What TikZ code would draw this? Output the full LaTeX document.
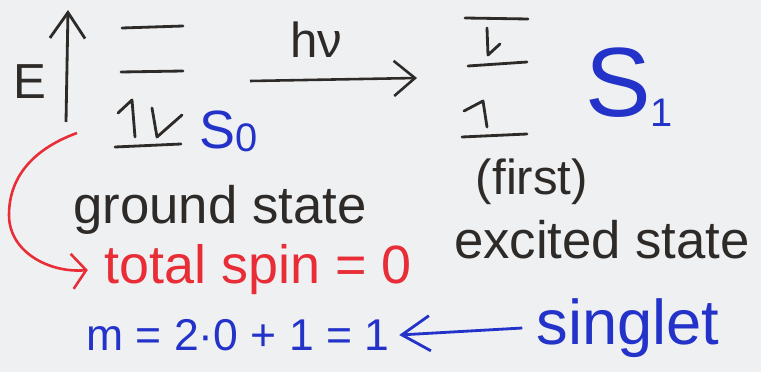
\documentclass[tikz,border=0pt]{standalone}
\usepackage{fontspec}
\setmainfont{Liberation Sans}
\usetikzlibrary{
  arrows.meta,
  positioning
}
\definecolor{pen}{RGB}{45,42,40}
\definecolor{bluepen}{RGB}{35,50,200}
\definecolor{redpen}{RGB}{232,45,55}
\definecolor{paper}{RGB}{238,240,242}
\newcommand{\lvl}[4]{%
  \draw[pen,line width=2.4pt,line cap=round] (#1,#2) -- (#3,#4);%
}

\begin{document}
\begin{tikzpicture}[x=0.03cm,y=-0.03cm,
  spin/.style={pen,line width=2.4pt,line cap=round,line join=round},
  ink/.style={font=\fontsize{#1}{#1}\selectfont,inner sep=0pt},
  barb/.style={-{Straight Barb[length=#1,width=30pt]}}]
  \fill[paper] (0,0) rectangle (761,372);
  \useasboundingbox (0,0) rectangle (761,372);

  % energy axis
  \node[ink=42pt,text=pen] (E) at (30,82) {E};
  \coordinate (Ebot) at (66,122);
  \coordinate (Etop) at (68,10);
  \draw[pen,line width=2.4pt,barb=22pt] (Ebot) -- (Etop);

  % S0 levels
  \lvl{122}{28}{183}{26}
  \lvl{121}{72}{183}{71}
  \lvl{115}{147}{181}{144}
  \draw[spin] (135,137) -- (132,100) -- (118,113);
  \draw[spin] (152,108) -- (157,137) -- (182,115);
  \node[ink=46pt,text=bluepen,anchor=base west] (S0) at (199,149)
    {S\raisebox{-2pt}{\fontsize{34pt}{34pt}\selectfont 0}};

  % absorption
  \coordinate (hvfrom) at (250,81);
  \coordinate (hvto) at (417,78);
  \draw[pen,line width=2.2pt,barb=18pt] (hvfrom) -- (hvto);
  \node[ink=42pt,text=pen] (hv) at (316,40) {hν};

  % S1 levels
  \lvl{465}{18}{528}{19}
  \lvl{468}{66}{527}{62}
  \lvl{462}{137}{527}{134}
  \draw[spin] (487,28) -- (488,55) -- (500,44);
  \draw[spin] (487,127) -- (483,101) -- (464,111);
  \node[ink=84pt,text=bluepen,anchor=base west] (S1) at (585,117)
    {S\raisebox{-8pt}{\fontsize{34pt}{34pt}\selectfont 1}};

  % labels
  \node[ink=42pt,text=pen] (first) at (532,182) {(first)};
  \node[ink=45pt,text=pen] (ground) at (220,210) {ground state};
  \node[ink=45pt,text=pen] (excited) at (602,240) {excited state};
  \node[ink=46pt,text=redpen] (spin) at (258,270) {total spin = 0};
  \node[ink=38pt,text=bluepen] (mult) at (238,335) {m = 2·0 + 1 = 1};
  \node[ink=54pt,text=bluepen] (singlet) at (628,328) {singlet};

  % arrows to the notes
  \coordinate (redstart) at (77,133);
  \draw[redpen,line width=2.2pt,barb=12pt]
    (redstart) to[out=200,in=90] (9,215) to[out=-90,in=185] ([xshift=-14pt]spin.west);
  \draw[bluepen,line width=2.4pt,barb=24pt]
    ([xshift=-12pt]singlet.west) -- ([xshift=8pt]mult.east);
\end{tikzpicture}
\end{document}
